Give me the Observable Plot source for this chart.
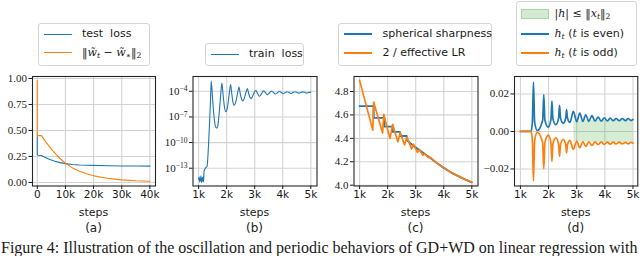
<!DOCTYPE html>
<html><head><meta charset="utf-8">
<script src="https://cdn.jsdelivr.net/npm/d3@7"></script>
<script src="https://cdn.jsdelivr.net/npm/@observablehq/plot@0.6"></script>
<style>
html,body{margin:0;padding:0;background:#fff;overflow:hidden;width:640px;height:256px}
#root{position:relative;width:640px;height:256px;font-family:"DejaVu Sans",sans-serif;color:#1a1a1a;overflow:hidden}
.legend{position:absolute;border:1px solid #d4d4d4;border-radius:3px;background:#fff;box-sizing:border-box}
.row{position:absolute;height:0;white-space:nowrap;font-size:11px}
.sw{position:absolute;width:28px;height:0;top:-0.8px}
.tx{position:absolute;top:-7px;line-height:14px}
.m{font-family:"DejaVu Serif",serif;font-style:italic}
.u{font-family:"DejaVu Serif",serif;font-style:normal}
sub{font-size:0.7em;vertical-align:-0.3em;line-height:0}
.lbl{position:absolute;width:140px;text-align:center;line-height:14px;white-space:nowrap}
#caption{position:absolute;left:1px;top:239.8px;font-family:"Liberation Serif",serif;font-size:16px;line-height:16px;white-space:nowrap}
</style></head>
<body><div id="root"></div>
<script>
// ---------- data ----------
// (a)
const aTestSteps = [0, 0, 150, 1500, 2500, 4000, 6000, 8000, 10000, 12500, 15000, 20000, 25000, 30000, 35000, 40000];
const aTestLoss  = [0.44, 0.27, 0.262, 0.26, 0.245, 0.226, 0.206, 0.191, 0.181, 0.173, 0.168, 0.164, 0.161, 0.159, 0.158, 0.157];
const aNormSteps = [0, 0, 1500, 3000, 5000, 7500, 10000, 12500, 15000, 17500, 20000, 22500, 25000, 27500, 30000, 35000, 40000];
const aNormDist  = [0.98, 0.45, 0.45, 0.39, 0.32, 0.245, 0.185, 0.14, 0.107, 0.084, 0.065, 0.051, 0.04, 0.032, 0.025, 0.016, 0.011];
const aXTicks = [0, 10000, 20000, 30000, 40000];
const aXLabels = ["0", "10k", "20k", "30k", "40k"];
const aYTicks = [0, 0.25, 0.5, 0.75, 1];
const aYLabels = ["0.00", "0.25", "0.50", "0.75", "1.00"];

// (b) train loss, log10 exponents
const bSteps = [1000,1020,1035,1050,1065,1080,1095,1110,1125,1140,1160,1175,1190,1205,1230,1260,1300,1350,1400,1430,1450,
  1500,1560,1620,1650,1690,1740,1790,1830,1870,1920,1970,2020,2080,2140,2180,2220,2270,2320,2390,2440,2480,2530,2580,2630,2690,2740,
  2780,2830,2870,2920,2990,3040,3090,3170,3240,3310,3380,3450,3520,3590,3660,3730,3800,3870,3940,4010,4080,4150,4220,4290,4360,4430,
  4500,4570,4640,4710,4780,4850,4920,5000];
const bLogLoss = [-14.3,-14.0,-14.6,-14.2,-14.5,-13.9,-14.4,-14.7,-14.1,-14.5,-14.0,-14.6,-13.6,-13.2,-13.1,-12.9,-12.8,-10.5,-7.0,-4.5,-2.8,
  -5.0,-7.3,-8.25,-8.3,-7.9,-6.3,-4.3,-3.05,-4.3,-5.8,-6.4,-6.0,-4.6,-3.22,-4.2,-5.2,-5.64,-5.3,-4.2,-3.49,-4.2,-4.9,-5.13,-4.8,-4.1,-3.69,
  -4.2,-4.7,-4.86,-4.6,-4.1,-3.88,-4.2,-4.58,-4.3,-3.95,-4.15,-4.39,-4.2,-4.0,-4.1,-4.32,-4.2,-4.03,-4.1,-4.28,-4.18,-4.05,-4.12,-4.25,-4.15,-4.06,
  -4.12,-4.23,-4.15,-4.07,-4.12,-4.21,-4.14,-4.1];
const bYTicks = [1e-13, 1e-10, 1e-7, 1e-4];
const bYLabels = ["10|−13", "10|−10", "10|−7", "10|−4"];

// (c)
const cSharpSteps = [1000, 1500, 1500, 1880, 1880, 2180, 2180, 2440, 2440, 2680, 2680, 2900, 3100, 3300, 3500, 3750, 4000, 4250, 4500, 4750, 5000];
const cSharpness  = [4.675, 4.675, 4.575, 4.575, 4.50, 4.50, 4.455, 4.455, 4.42, 4.42, 4.385, 4.34, 4.305, 4.27, 4.236, 4.19, 4.148, 4.11, 4.08, 4.05, 4.025];
const cLRSteps = [1000, 1470, 1500, 1820, 1860, 2080, 2180, 2360, 2450, 2600, 2690, 2850, 2920, 3060, 3130, 3260, 3320, 3450, 3500, 3750, 4000, 4250, 4500, 4750, 5000];
const cTwoOverLR = [4.895, 4.47, 4.71, 4.445, 4.605, 4.40, 4.52, 4.37, 4.45, 4.345, 4.41, 4.31, 4.35, 4.28, 4.305, 4.255, 4.27, 4.235, 4.24, 4.19, 4.148, 4.11, 4.08, 4.05, 4.025];
const cYTicks = [4.0, 4.2, 4.4, 4.6, 4.8];
const cYLabels = ["4.0", "4.2", "4.4", "4.6", "4.8"];

// (d)
const dSteps = [1000,1380,1425,1464,1505,1600,1790,1830,1870,1990,2085,2120,2155,2260,2355,2390,2425,2520,2610,2640,2670,2760,
  2880,3000,3110,3220,3320,3430,3540,3650,3760,3870,3980,4090,4190,4300,4400,4510,4620,4730,4830,4930,5000];
const dEven = [0,0,0.005,0.0263,0.005,0.0005,0.006,0.0197,0.006,0.0023,0.0065,0.0162,0.0068,0.0036,0.0070,0.0139,0.0072,0.0044,0.0072,0.0117,0.0073,0.0048,
  0.0107,0.0052,0.0098,0.0053,0.0089,0.0054,0.0084,0.0055,0.0076,0.0055,0.0073,0.0056,0.0071,0.0057,0.0069,0.0057,0.0069,0.0057,0.0069,0.0058,0.0064];
const dOdd = [0,0,-0.005,-0.0264,-0.005,-0.0005,-0.006,-0.0199,-0.006,-0.002,-0.0063,-0.016,-0.0065,-0.0034,-0.0068,-0.0133,-0.007,-0.0043,-0.007,-0.0114,-0.0071,-0.0048,
  -0.0096,-0.0052,-0.0087,-0.0054,-0.008,-0.0055,-0.0075,-0.0056,-0.0071,-0.0056,-0.0069,-0.0057,-0.0068,-0.0057,-0.0067,-0.0057,-0.0066,-0.0058,-0.0066,-0.0058,-0.0062];
const dBandSteps = [2900, 3200, 3500, 4000, 4500, 5000];
const dBandHi = [0.0054, 0.0056, 0.0058, 0.006, 0.0061, 0.0062];
const dBandLo = [-0.0053, -0.0055, -0.0057, -0.0059, -0.0061, -0.0062];
const dYTicks = [-0.02, 0, 0.02];
const dYLabels = ["−0.02", "0.00", "0.02"];

const kXTicks = [1000, 2000, 3000, 4000, 5000];
const kXLabels = ["1k", "2k", "3k", "4k", "5k"];

const BLUE = "#1f77b4", ORANGE = "#ff7f0e", GREEN = "#2ca02c";

// ---------- helpers ----------
const root = document.getElementById("root");
const zip = (xs, ys) => xs.map((x, i) => ({x, y: ys[i]}));

function makePanel(cfg) {
  const grid = {stroke: "#d3d3d3", strokeOpacity: 1, strokeWidth: 1.1};
  const fig = Plot.plot({
    width: 160, height: 130,
    marginLeft: cfg.mL, marginRight: 160 - cfg.mL - cfg.w, marginTop: 6, marginBottom: 14.5,
    style: {background: "transparent", overflow: "visible", color: "#1a1a1a"},
    x: {domain: cfg.xDomain},
    y: {type: cfg.yType || "linear", domain: cfg.yDomain},
    marks: [
      Plot.gridX(cfg.xTicks, grid),
      Plot.gridY(cfg.yTicks, grid),
      ...cfg.marks,
      Plot.frame({stroke: "#262626", strokeWidth: 1.1}),
      Plot.axisX(cfg.xTicks, {tickSize: 3.5, tickPadding: 1.5, fontSize: 10.5, fontFamily: "DejaVu Sans",
        tickFormat: d => cfg.xLabels[cfg.xTicks.indexOf(d)], label: null}),
      Plot.axisY(cfg.yTicks, {tickSize: 3.5, tickPadding: 2, fontSize: 11, fontFamily: "Liberation Serif",
        tickFormat: d => cfg.yLabels[cfg.yTicks.indexOf(d)], label: null})
    ]
  });
  fig.style.position = "absolute";
  fig.style.left = cfg.left + "px";
  fig.style.top = "70px";
  root.appendChild(fig);
  // superscript exponents
  fig.querySelectorAll("text").forEach(t => {
    const s = t.textContent;
    if (s.includes("|")) {
      const [base, exp] = s.split("|");
      t.textContent = "";
      const ns = "http://www.w3.org/2000/svg";
      const a = document.createElementNS(ns, "tspan"); a.textContent = base;
      const b = document.createElementNS(ns, "tspan"); b.textContent = exp;
      b.setAttribute("dy", "-0.45em"); b.setAttribute("font-size", "7.5");
      t.appendChild(a); t.appendChild(b);
    }
  });
  // axis label and subfigure letter
  const cx = cfg.left + cfg.mL + cfg.w / 2;
  const s1 = document.createElement("div");
  s1.className = "lbl"; s1.style.left = (cx - 70) + "px"; s1.style.top = "206px"; s1.style.fontSize = "11px";
  s1.textContent = "steps"; root.appendChild(s1);
  const s2 = document.createElement("div");
  s2.className = "lbl"; s2.style.left = (cx - 70) + "px"; s2.style.top = "221px"; s2.style.fontSize = "12px";
  s2.textContent = cfg.tag; root.appendChild(s2);
}

function legend(box, rows) {
  const d = document.createElement("div");
  d.className = "legend";
  Object.assign(d.style, {left: box.x + "px", top: box.y + "px", width: box.w + "px", height: box.h + "px"});
  rows.forEach(r => {
    const row = document.createElement("div");
    row.className = "row"; row.style.top = r.y + "px"; row.style.left = "0px";
    const sw = document.createElement("div");
    sw.className = "sw"; sw.style.left = box.sx + "px";
    if (r.patch) {
      Object.assign(sw.style, {height: "10px", top: "-5px", background: "rgba(44,160,44,0.22)", border: "0.5px solid rgba(44,160,44,0.25)", boxSizing: "border-box"});
    } else {
      sw.style.borderTop = r.lw + "px solid " + r.color;
      sw.style.top = (-r.lw / 2) + "px";
    }
    const tx = document.createElement("div");
    tx.className = "tx"; tx.style.left = box.tx + "px"; tx.innerHTML = r.html;
    row.appendChild(sw); row.appendChild(tx); d.appendChild(row);
  });
  root.appendChild(d);
}

// ---------- panels ----------
makePanel({
  left: 0, mL: 32, w: 123, tag: "(a)",
  xDomain: [-1700, 42000], yDomain: [-0.034, 1.019],
  xTicks: aXTicks, xLabels: aXLabels, yTicks: aYTicks, yLabels: aYLabels,
  marks: [
    Plot.line(zip(aTestSteps, aTestLoss), {x: "x", y: "y", stroke: BLUE, strokeWidth: 1.1}),
    Plot.line(zip(aNormSteps, aNormDist), {x: "x", y: "y", stroke: ORANGE, strokeWidth: 1.1})
  ]
});

makePanel({
  left: 160, mL: 32.5, w: 124, tag: "(b)", yType: "log",
  xDomain: [800, 5220], yDomain: [Math.pow(10, -15.08), Math.pow(10, -2.27)],
  xTicks: kXTicks, xLabels: kXLabels, yTicks: bYTicks, yLabels: bYLabels,
  marks: [
    Plot.line(zip(bSteps, bLogLoss.map(e => Math.pow(10, e))), {x: "x", y: "y", stroke: BLUE, strokeWidth: 1.1, curve: "monotone-x"})
  ]
});

makePanel({
  left: 320, mL: 33.5, w: 124, tag: "(c)",
  xDomain: [800, 5220], yDomain: [3.993, 4.928],
  xTicks: kXTicks, xLabels: kXLabels, yTicks: cYTicks, yLabels: cYLabels,
  marks: [
    Plot.line(zip(cSharpSteps, cSharpness), {x: "x", y: "y", stroke: BLUE, strokeWidth: 1.9}),
    Plot.line(zip(cLRSteps, cTwoOverLR), {x: "x", y: "y", stroke: ORANGE, strokeWidth: 1.7})
  ]
});

makePanel({
  left: 480, mL: 34, w: 123.3, tag: "(d)",
  xDomain: [790, 5170], yDomain: [-0.0291, 0.0293],
  xTicks: kXTicks, xLabels: kXLabels, yTicks: dYTicks, yLabels: dYLabels,
  marks: [
    Plot.areaY(dBandSteps.map((s, i) => ({x: s, lo: dBandLo[i], hi: dBandHi[i]})), {x: "x", y1: "lo", y2: "hi", fill: GREEN, fillOpacity: 0.2}),
    Plot.line(zip(dSteps, dEven), {x: "x", y: "y", stroke: BLUE, strokeWidth: 1.7, curve: "monotone-x"}),
    Plot.line(zip(dSteps, dOdd), {x: "x", y: "y", stroke: ORANGE, strokeWidth: 1.7, curve: "monotone-x"})
  ]
});

// ---------- legends ----------
legend({x: 37.5, y: 22.5, w: 112, h: 43, sx: 5, tx: 43.5}, [
  {y: 10.8, color: BLUE, lw: 1.3, html: "test&nbsp; loss"},
  {y: 29.2, color: ORANGE, lw: 1.3, html: '<span class="u">‖</span><span class="m">w̃</span><sub class="m">t</sub><span class="u"> − </span><span class="m">w̃</span><sub class="u">∗</sub><span class="u">‖</span><sub class="u">2</sub>'}
]);
legend({x: 205, y: 42.5, w: 98.5, h: 23, sx: 5, tx: 43}, [
  {y: 10.8, color: BLUE, lw: 1.3, html: "train&nbsp; loss"}
]);
legend({x: 338, y: 22.5, w: 154, h: 43, sx: 5, tx: 43.5}, [
  {y: 10.8, color: BLUE, lw: 2, html: "spherical sharpness"},
  {y: 29.8, color: ORANGE, lw: 2, html: "2 / effective LR"}
]);
legend({x: 515.5, y: 0.5, w: 121, h: 65, sx: 4.5, tx: 38}, [
  {y: 12.8, patch: true, html: '<span class="u">|</span><span class="m">h</span><span class="u">| ≤ ‖</span><span class="m">x</span><sub class="m">t</sub><span class="u">‖</span><sub class="u">2</sub>'},
  {y: 32.8, color: BLUE, lw: 2, html: '<span class="m">h</span><sub class="m">t</sub> (<span class="m">t</span> is even)'},
  {y: 51.8, color: ORANGE, lw: 2, html: '<span class="m">h</span><sub class="m">t</sub> (<span class="m">t</span> is odd)'}
]);

// ---------- caption ----------
const cap = document.createElement("div");
cap.id = "caption";
cap.textContent = "Figure 4: Illustration of the oscillation and periodic behaviors of GD+WD on linear regression with";
root.appendChild(cap);
</script>
</body></html>
